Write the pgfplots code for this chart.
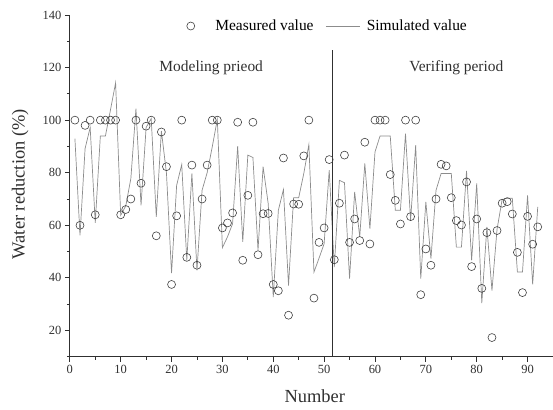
\documentclass[border=0pt]{standalone}
\usepackage{pgfplots}
\pgfplotsset{compat=1.18}
\usepackage{fontspec}
\setmainfont{Liberation Serif}

\definecolor{axisgray}{HTML}{303030}
\definecolor{markgray}{HTML}{404040}
\definecolor{simgray}{HTML}{8C8C8C}

\begin{document}
\begin{tikzpicture}
\begin{axis}[
  scale only axis,
  width=484.5pt, height=342.7pt,
  xmin=0, xmax=95, ymin=10, ymax=140,
  axis lines*=left,
  axis line style={axisgray, line width=1.1pt},
  xtick={0,10,...,90}, minor xtick={5,15,...,95},
  ytick={20,40,...,140}, minor ytick={10,30,...,130},
  tick align=outside,
  major tick length=5pt, minor tick length=3pt,
  every tick/.style={axisgray, line width=0.9pt},
  /pgf/number format/assume math mode=true,
  ticklabel style={font=\fontsize{12.5}{14}\selectfont, text=axisgray},
  xlabel={Number}, ylabel={Water reduction (\%)},
  every axis x label/.style={at={(axis description cs:0.507,-0.134)}, anchor=base,
    font=\fontsize{18.5}{22}\selectfont, text=axisgray},
  every axis y label/.style={at={(axis description cs:-0.103,0.505)}, rotate=90, anchor=center,
    font=\fontsize{18.5}{22}\selectfont, text=axisgray},
  clip=false,
  legend columns=2,
  legend style={draw=none, fill=none, font=\fontsize{15.5}{18}\selectfont,
    at={(axis cs:22.9,135.8)}, anchor=west, inner sep=0pt,
    /tikz/every even column/.append style={column sep=10pt}},
]
\addplot[only marks, mark=o, mark size=4pt, mark options={markgray, line width=0.6pt},
  legend image code/.code={\draw[markgray, line width=0.6pt] (4pt,0pt) circle (4pt);
    \path[draw=none] (0pt,0pt) -- (26.6pt,0pt);}]
coordinates {
(1,100) (2,60) (3,98) (4,100) (5,64) (6,100) (7,100) (8,100) (9,100) (10,64)
(11,66) (12,70) (13,100) (14,76) (15,97.7) (16,100) (17,56) (18,95.5) (19,82.3) (20,37.5)
(21,63.6) (22,100) (23,47.8) (24,82.9) (25,44.8) (26,70) (27,82.9) (28,100) (29,100) (30,59)
(31,60.9) (32,64.7) (33,99.2) (34,46.7) (35,71.4) (36,99.2) (37,48.8) (38,64.4) (39,64.5) (40,37.5)
(41,35.1) (42,85.6) (43,25.8) (44,68.1) (45,68) (46,86.4) (47,100) (48,32.3) (49,53.5) (50,59)
(51,85) (52,46.9) (53,68.4) (54,86.7) (55,53.5) (56,62.4) (57,54.2) (58,91.6) (59,52.9) (60,100)
(61,100) (62,100) (63,79.3) (64,69.5) (65,60.5) (66,100) (67,63.3) (68,100) (69,33.6) (70,51)
(71,44.8) (72,70) (73,83.2) (74,82.6) (75,70.5) (76,61.8) (77,60.1) (78,76.5) (79,44.3) (80,62.4)
(81,36) (82,57.2) (83,17.3) (84,58) (85,68.4) (86,69) (87,64.3) (88,49.7) (89,34.4) (90,63.4)
(91,52.8) (92,59.4)
};
\addlegendentry{Measured value}

\addplot[simgray, line width=0.7pt, mark=none,
  legend image code/.code={\draw[simgray, line width=0.7pt] (0pt,0pt) -- (34pt,0pt);
    \path[draw=none] (0pt,0pt) -- (39pt,0pt);}]
coordinates {
(1,93) (2,56.2) (3,89.2) (4,97.2) (5,60.9) (6,94) (7,94) (8,104) (9,114.2) (10,63.8)
(11,67.4) (12,77.8) (13,104.4) (14,67.6) (15,97.2) (16,100.6) (17,63.2) (18,95.9) (19,79.8) (20,41.8)
(21,75.2) (22,83.1) (23,46.7) (24,79.7) (25,42.9) (26,73.3) (27,80) (28,89.8) (29,100.3) (30,51.5)
(31,55.6) (32,60.6) (33,90.1) (34,53.7) (35,86.7) (36,85.8) (37,50.5) (38,82.3) (39,68.3) (40,32.7)
(41,65.7) (42,73.6) (43,37.1) (44,70.5) (45,70.5) (46,79.7) (47,90.7) (48,42.2) (49,47.5) (50,53)
(51,81) (52,44.1) (53,77.1) (54,76.2) (55,39.7) (56,72.7) (57,55.6) (58,83.5) (59,58.7) (60,87.9)
(61,94) (62,94) (63,94) (64,65.7) (65,65.7) (66,94.9) (67,61.9) (68,90.5) (69,39.7) (70,68.9)
(71,47.3) (72,73.3) (73,79.7) (74,79.7) (75,79.7) (76,51.7) (77,51.7) (78,80.7) (79,46.7) (80,75.9)
(81,30.4) (82,59.4) (83,35.2) (84,58.5) (85,69.8) (86,70.3) (87,70.3) (88,42.2) (89,42.2) (90,71.4)
(91,37.5) (92,67)
};
\addlegendentry{Simulated value}

% boundary between the two periods
\addplot[forget plot, axisgray, line width=1.1pt] coordinates {(51.6,10) (51.6,126.7)};

\node[font=\fontsize{15.5}{18}\selectfont, text=axisgray] at (axis cs:27.8,120) {Modeling prieod};
\node[font=\fontsize{15.5}{18}\selectfont, text=axisgray] at (axis cs:76,120) {Verifing period};

\coordinate (bl) at (axis cs:-13.73,-9.93);
\coordinate (tr) at (axis cs:95,145.7);
\end{axis}
\pgfresetboundingbox
\path (bl) rectangle (tr);
\end{tikzpicture}
\end{document}
